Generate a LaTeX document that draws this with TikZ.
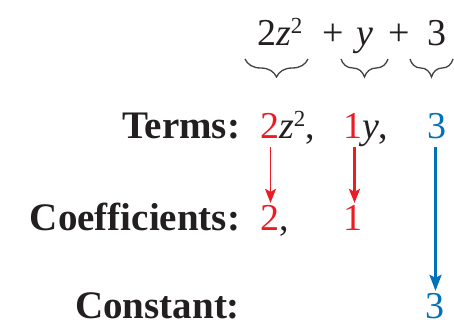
\documentclass[tikz,border=0pt]{standalone}
\usepackage{fontspec}
\setmainfont{Liberation Serif}
\usetikzlibrary{decorations.pathreplacing,arrows.meta}
\definecolor{ink}{HTML}{231F20}
\definecolor{tred}{HTML}{ED1C24}
\definecolor{tblue}{HTML}{0072BC}
\newcommand\supTwo{\raisebox{12pt}{\fontsize{23}{23}\selectfont 2}}
\begin{document}
\begin{tikzpicture}[x=1pt,y=-1pt,
  txt/.style={inner sep=0pt,outer sep=0pt,anchor=base west,text=ink,font=\fontsize{38}{40}\selectfont},
  lbl/.style={inner sep=0pt,outer sep=0pt,anchor=base east,text=ink,font=\fontsize{39}{40}\selectfont\bfseries},
  bracestyle/.style={draw=ink!85,line width=1.3pt,decorate,decoration={brace,mirror,amplitude=18pt}},
  redarrow/.style={draw=tred,-{Stealth[length=14pt,width=11pt,inset=3pt]}},
  bluearrow/.style={draw=tblue,line width=2.8pt,-{Stealth[length=16pt,width=12pt,inset=3pt]}}]
\useasboundingbox (0,0) rectangle (454,326);
% top expression
\node[txt] (e1) at (257,46) {2\textit{z}\supTwo};
\node[txt] (p1) at (322,46) {+};
\node[txt] (e2) at (356,46) {\textit{y}};
\node[txt] (p2) at (388,46) {+};
\node[txt] (e3) at (427,46) {3};
% braces
\coordinate (b1a) at (245,59); \coordinate (b1b) at (308,59);
\coordinate (b2a) at (341,59); \coordinate (b2b) at (388,59);
\coordinate (b3a) at (410,59); \coordinate (b3b) at (453,59);
\draw[bracestyle] (b1a) -- (b1b);
\draw[bracestyle] (b2a) -- (b2b);
\draw[bracestyle] (b3a) -- (b3b);
% labels
\node[lbl] (lt) at (240,138) {Terms:};
\node[lbl] (lc) at (240,230) {Coefficients:};
\node[lbl] (lk) at (240,318) {Constant:};
% terms row
\node[txt,text=tred] (t2) at (260,138) {2};
\node[txt] (tz) at (t2.base east) {\textit{z}\supTwo,};
\node[txt,text=tred] (t1) at (343,138) {1};
\node[txt] (ty) at (t1.base east) {\textit{y},};
\node[txt,text=tblue] (t3) at (427,138) {3};
% coefficients row
\node[txt,text=tred] (c2) at (260,230) {2};
\node[txt] (cc) at (c2.base east) {,};
\node[txt,text=tred] (c1) at (343,230) {1};
% constant row
\node[txt,text=tblue] (k3) at (425,318) {3};
% arrows
\draw[redarrow,line width=1.6pt,shorten <=9pt,shorten >=2pt] ([xshift=1pt]t2.south) -- ([xshift=1pt]c2.north);
\draw[redarrow,line width=2.6pt,shorten <=9pt,shorten >=2pt] ([xshift=2pt]t1.south) -- ([xshift=2pt]c1.north);
\draw[bluearrow,shorten <=9pt,shorten >=2pt] ([xshift=-1pt]t3.south) -- ([xshift=1pt]k3.north);
\end{tikzpicture}
\end{document}
